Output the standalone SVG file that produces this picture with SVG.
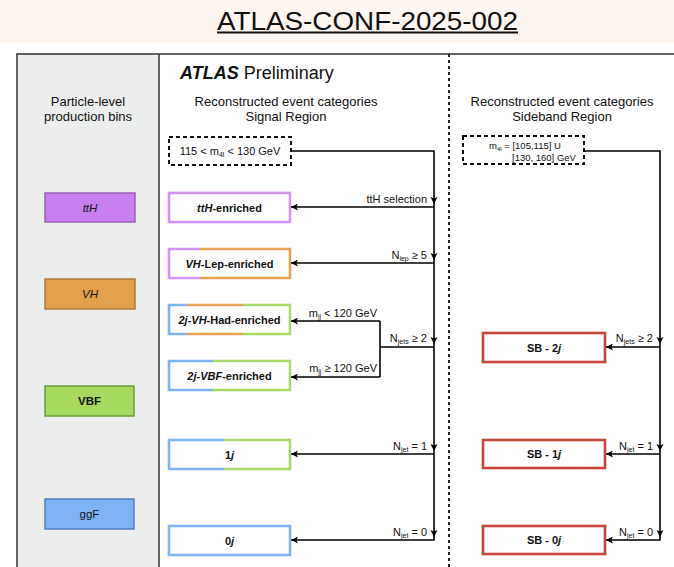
<svg xmlns="http://www.w3.org/2000/svg" xmlns:xlink="http://www.w3.org/1999/xlink" width="674" height="567" viewBox="0 0 674 567">
  <style>
    text { font-family: "Liberation Sans", Arial, sans-serif; fill: #111; }
    .hdr { font-size: 13px; text-anchor: middle; }
    .lbl { font-size: 11px; }
    .end { text-anchor: end; }
    .box-t { font-size: 11px; font-weight: bold; text-anchor: middle; }
    .bin-t { font-size: 11.5px; text-anchor: middle; }
    .cat { fill: #fff; }
    .edge { fill: none; stroke: #000; stroke-width: 1.6; }
    .dash { fill: #fff; stroke: #111; stroke-width: 2; stroke-dasharray: 4 3; }
    .side { stroke-width: 2.6; fill: none; }
    .pur { stroke: #d294f2; }
    .org { stroke: #e2a355; }
    .grn { stroke: #a8d86a; }
    .blu { stroke: #80b3f2; }
    .red { stroke: #c8453c; }
  </style>
  <defs>
    <marker id="arr" viewBox="0 0 10 10" refX="10" refY="5" markerWidth="8" markerHeight="7" markerUnits="userSpaceOnUse" orient="auto">
      <path d="M0,0 L10,5 L0,10 L2.5,5 z" fill="#000"/>
    </marker>
    <path id="dn" d="M-3.5,-7 L0,0 L3.5,-7 L0,-5.5 z" fill="#000"/>
  </defs>

  <!-- title band -->
  <rect x="0" y="0" width="674" height="43" fill="#fdf6f1"/>
  <text x="217" y="29.5" font-size="25" textLength="301" lengthAdjust="spacingAndGlyphs" fill="#111">ATLAS-CONF-2025-002</text>
  <line x1="217" y1="32.6" x2="518" y2="32.6" stroke="#111" stroke-width="2"/>

  <!-- frame and columns -->
  <rect x="17" y="54" width="142" height="520" fill="#eceeed"/>
  <rect x="159" y="54" width="520" height="520" fill="#fff"/>
  <path d="M17,574 V54 H680" fill="none" stroke="#333" stroke-width="1.5"/>
  <line x1="159" y1="54" x2="159" y2="574" stroke="#333" stroke-width="1.5"/>
  <line x1="449" y1="54" x2="449" y2="574" stroke="#222" stroke-width="2" stroke-dasharray="3 3"/>

  <!-- headers -->
  <text x="180" y="79" font-size="18"><tspan font-weight="bold" font-style="italic">ATLAS</tspan> Preliminary</text>
  <text class="hdr" x="88" y="106" font-size="13.5">Particle-level</text>
  <text class="hdr" x="88" y="121" font-size="13.5">production bins</text>
  <text class="hdr" x="286" y="106">Reconstructed event categories</text>
  <text class="hdr" x="286" y="121">Signal Region</text>
  <text class="hdr" x="562" y="106">Reconstructed event categories</text>
  <text class="hdr" x="562" y="121">Sideband Region</text>

  <!-- particle-level production bins -->
  <g id="bin-tth">
    <rect x="45" y="193" width="90" height="29" fill="#c880f0" stroke="#9b5fb8" stroke-width="1.5"/>
    <text class="bin-t" x="90" y="211.5" font-style="italic">ttH</text>
  </g>
  <g id="bin-vh">
    <rect x="45" y="279" width="90" height="30" fill="#e3a04c" stroke="#b07a35" stroke-width="1.5"/>
    <text class="bin-t" x="90" y="298" font-style="italic">VH</text>
  </g>
  <g id="bin-vbf">
    <rect x="45" y="386" width="89" height="30" fill="#a6d95e" stroke="#6c9a3a" stroke-width="1.5"/>
    <text class="bin-t" x="89.5" y="405" font-weight="bold">VBF</text>
  </g>
  <g id="bin-ggf">
    <rect x="45" y="499" width="89" height="30" fill="#7db3f4" stroke="#4f80c0" stroke-width="1.5"/>
    <text class="bin-t" x="89.5" y="518">ggF</text>
  </g>

  <!-- signal region preselection -->
  <g id="sr-window">
    <rect class="dash" x="169" y="137" width="122" height="28"/>
    <text class="lbl" x="230" y="155" text-anchor="middle">115 &lt; m<tspan font-size="7" dy="1.5">4l</tspan><tspan dy="-1.5"> &lt; 130 GeV</tspan></text>
  </g>

  <!-- signal region categories -->
  <g id="cat-tth">
    <rect class="cat" x="169" y="193" width="121" height="29"/>
    <rect class="side pur" x="169" y="193" width="121" height="29"/>
    <text class="box-t" x="229.5" y="211.5"><tspan font-style="italic">ttH</tspan>-enriched</text>
  </g>
  <g id="cat-vhlep">
    <rect class="cat" x="169" y="249" width="121" height="29"/>
    <path class="side org" d="M200,249 H290 V278 H200"/>
    <path class="side pur" d="M200,249 H169 V278 H200"/>
    <text class="box-t" x="229.5" y="267.5"><tspan font-style="italic">VH</tspan>-Lep-enriched</text>
  </g>
  <g id="cat-2jvhhad">
    <rect class="cat" x="169" y="305" width="121" height="29"/>
    <path class="side grn" d="M243,305 H290 V334 H243"/>
    <path class="side org" d="M187,305 H243 M187,334 H243"/>
    <path class="side blu" d="M187,305 H169 V334 H187"/>
    <text class="box-t" x="229.5" y="323.5"><tspan font-style="italic">2j-VH</tspan>-Had-enriched</text>
  </g>
  <g id="cat-2jvbf">
    <rect class="cat" x="169" y="361" width="121" height="29"/>
    <path class="side grn" d="M213,361 H290 V390 H213"/>
    <path class="side blu" d="M213,361 H169 V390 H213"/>
    <text class="box-t" x="229.5" y="379.5"><tspan font-style="italic">2j-VBF</tspan>-enriched</text>
  </g>
  <g id="cat-1j">
    <rect class="cat" x="169" y="440" width="121" height="29"/>
    <path class="side grn" d="M224,440 H290 V469 H224"/>
    <path class="side blu" d="M224,440 H169 V469 H224"/>
    <text class="box-t" x="229.5" y="458.5">1<tspan font-style="italic">j</tspan></text>
  </g>
  <g id="cat-0j">
    <rect class="cat" x="169" y="526" width="121" height="29"/>
    <rect class="side blu" x="169" y="526" width="121" height="29"/>
    <text class="box-t" x="229.5" y="544.5">0<tspan font-style="italic">j</tspan></text>
  </g>

  <!-- sideband preselection -->
  <g id="sb-window">
    <rect class="dash" x="463" y="136" width="121" height="28"/>
    <text x="489" y="149" font-size="9.5">m<tspan font-size="6" dy="1.5">4l</tspan><tspan dy="-1.5"> = [105,115] U</tspan></text>
    <text x="512" y="160.5" font-size="9.5">[130, 160] GeV</text>
  </g>

  <!-- sideband categories -->
  <g id="sb-2j">
    <rect class="cat" x="483" y="333" width="122" height="29"/>
    <rect class="side red" x="483" y="333" width="122" height="29"/>
    <text class="box-t" x="544" y="351.5">SB - 2<tspan font-style="italic">j</tspan></text>
  </g>
  <g id="sb-1j">
    <rect class="cat" x="483" y="440" width="122" height="28"/>
    <rect class="side red" x="483" y="440" width="122" height="28"/>
    <text class="box-t" x="544" y="458">SB - 1<tspan font-style="italic">j</tspan></text>
  </g>
  <g id="sb-0j">
    <rect class="cat" x="483" y="526" width="122" height="28"/>
    <rect class="side red" x="483" y="526" width="122" height="28"/>
    <text class="box-t" x="544" y="544">SB - 0<tspan font-style="italic">j</tspan></text>
  </g>

  <!-- connectors -->
  <g id="connectors">
    <!-- signal region spine -->
    <polyline class="edge" points="291,151 434,151 434,540 291,540" marker-end="url(#arr)"/>
    <line class="edge" x1="434" y1="207" x2="291" y2="207" marker-end="url(#arr)"/>
    <line class="edge" x1="434" y1="263" x2="291" y2="263" marker-end="url(#arr)"/>
    <line class="edge" x1="434" y1="347" x2="380" y2="347"/>
    <line class="edge" x1="380" y1="321" x2="380" y2="377"/>
    <line class="edge" x1="380" y1="321" x2="291" y2="321" marker-end="url(#arr)"/>
    <line class="edge" x1="380" y1="377" x2="291" y2="377" marker-end="url(#arr)"/>
    <line class="edge" x1="434" y1="454" x2="291" y2="454" marker-end="url(#arr)"/>
    <use xlink:href="#dn" x="434" y="204"/>
    <use xlink:href="#dn" x="434" y="260"/>
    <use xlink:href="#dn" x="434" y="344"/>
    <use xlink:href="#dn" x="434" y="451"/>
    <use xlink:href="#dn" x="434" y="537"/>

    <!-- sideband spine -->
    <polyline class="edge" points="584,151 660,151 660,540 606,540" marker-end="url(#arr)"/>
    <line class="edge" x1="660" y1="347" x2="606" y2="347" marker-end="url(#arr)"/>
    <line class="edge" x1="660" y1="454" x2="606" y2="454" marker-end="url(#arr)"/>
    <use xlink:href="#dn" x="660" y="344"/>
    <use xlink:href="#dn" x="660" y="451"/>
    <use xlink:href="#dn" x="660" y="537"/>

    <!-- selection labels -->
    <text class="lbl end" x="427" y="203">ttH selection</text>
    <text class="lbl end" x="427" y="259">N<tspan font-size="7" dy="1.5">lep</tspan><tspan dy="-1.5"> ≥ 5</tspan></text>
    <text class="lbl end" x="377" y="317">m<tspan font-size="7" dy="1.5">jj</tspan><tspan dy="-1.5"> &lt; 120 GeV</tspan></text>
    <text class="lbl end" x="427" y="342">N<tspan font-size="7" dy="1.5">jets</tspan><tspan dy="-1.5"> ≥ 2</tspan></text>
    <text class="lbl end" x="377" y="372">m<tspan font-size="7" dy="1.5">jj</tspan><tspan dy="-1.5"> ≥ 120 GeV</tspan></text>
    <text class="lbl end" x="427" y="450">N<tspan font-size="7" dy="1.5">jet</tspan><tspan dy="-1.5"> = 1</tspan></text>
    <text class="lbl end" x="427" y="536">N<tspan font-size="7" dy="1.5">jet</tspan><tspan dy="-1.5"> = 0</tspan></text>
    <text class="lbl end" x="653" y="342">N<tspan font-size="7" dy="1.5">jets</tspan><tspan dy="-1.5"> ≥ 2</tspan></text>
    <text class="lbl end" x="653" y="450">N<tspan font-size="7" dy="1.5">jet</tspan><tspan dy="-1.5"> = 1</tspan></text>
    <text class="lbl end" x="653" y="536">N<tspan font-size="7" dy="1.5">jet</tspan><tspan dy="-1.5"> = 0</tspan></text>
  </g>
</svg>
